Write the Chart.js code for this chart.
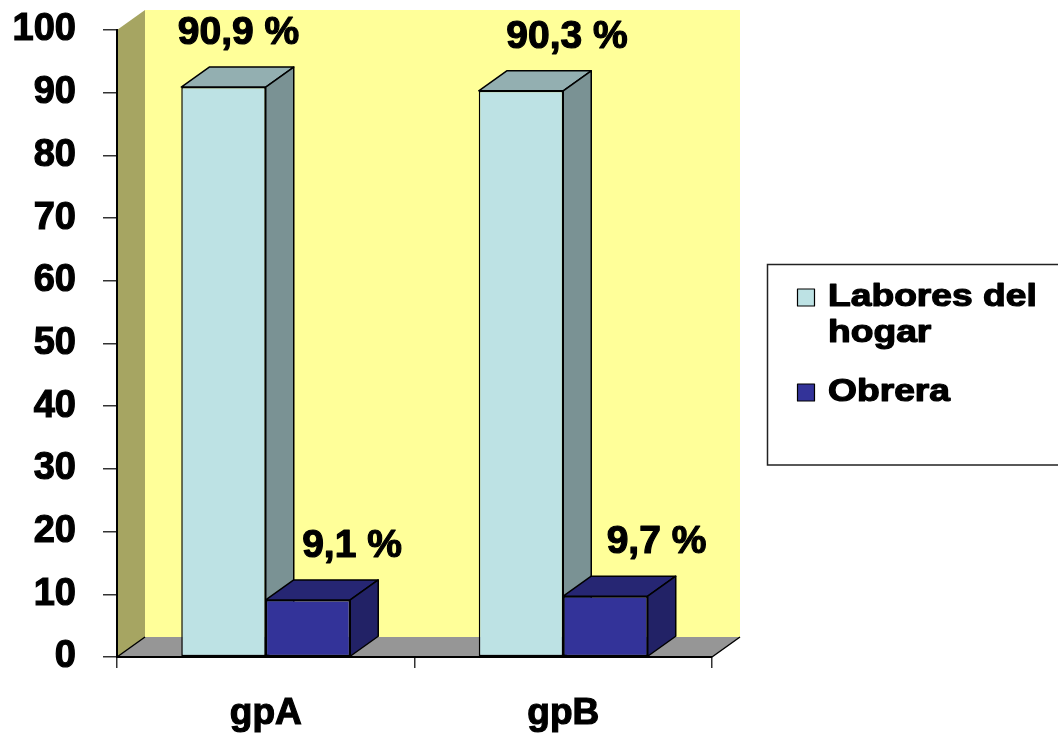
<!DOCTYPE html>
<html>
<head>
<meta charset="utf-8">
<script src="https://cdn.jsdelivr.net/npm/chart.js@4.4.1/dist/chart.umd.min.js"></script>
<style>
  html, body { margin: 0; padding: 0; background: #ffffff; }
  #wrap { width: 1058px; height: 741px; }
</style>
</head>
<body>
<div id="wrap"><canvas id="c" width="1058" height="741"></canvas></div>
<script>
// Occupation by group (percent)
const categories = ['gpA', 'gpB'];
const seriesNames = ['Labores del hogar', 'Obrera'];
const laboresValues = [90.9, 90.3];
const obreraValues = [9.1, 9.7];
const yTickValues = [0, 10, 20, 30, 40, 50, 60, 70, 80, 90, 100];

const FONT = "'Liberation Sans', Arial, sans-serif";
Chart.defaults.font.family = FONT;

// Pseudo-3D: walls, floor and the top/side faces of each bar
const box3d = {
  id: 'box3d',
  beforeDraw(chart, args, o) {
    const { ctx, chartArea: a } = chart;
    const dx = o.dx, dy = o.dy;
    ctx.save();
    // back wall
    ctx.fillStyle = o.backWall;
    ctx.fillRect(a.left + dx, a.top + dy, a.right - a.left, a.bottom - a.top);
    // left wall
    ctx.fillStyle = o.sideWall;
    ctx.beginPath();
    ctx.moveTo(a.left, a.top);
    ctx.lineTo(a.left + dx, a.top + dy);
    ctx.lineTo(a.left + dx, a.bottom + dy);
    ctx.lineTo(a.left, a.bottom);
    ctx.closePath();
    ctx.fill();
    // floor
    ctx.fillStyle = o.floor;
    ctx.beginPath();
    ctx.moveTo(a.left, a.bottom);
    ctx.lineTo(a.left + dx, a.bottom + dy);
    ctx.lineTo(a.right + dx, a.bottom + dy);
    ctx.lineTo(a.right, a.bottom);
    ctx.closePath();
    ctx.fill();
    ctx.strokeStyle = '#000';
    ctx.lineWidth = 1.5;
    ctx.beginPath();
    ctx.moveTo(a.left, a.bottom);
    ctx.lineTo(a.left + dx, a.bottom + dy);
    ctx.moveTo(a.right, a.bottom);
    ctx.lineTo(a.right + dx, a.bottom + dy);
    ctx.stroke();
    ctx.restore();
  },
  beforeDatasetsDraw(chart, args, o) {
    const ctx = chart.ctx;
    const dx = o.dx, dy = o.dy;
    ctx.save();
    ctx.strokeStyle = '#000';
    ctx.lineWidth = 1.5;
    ctx.lineJoin = 'round';
    const n = chart.data.labels.length;
    for (let i = 0; i < n; i++) {
      chart.data.datasets.forEach((ds, d) => {
        const bar = chart.getDatasetMeta(d).data[i];
        if (!bar) return;
        const { x, y, base, width } = bar.getProps(['x', 'y', 'base', 'width'], true);
        const x0 = x - width / 2, x1 = x + width / 2;
        const faces = o.faces[d];
        // top face
        ctx.fillStyle = faces.top;
        ctx.beginPath();
        ctx.moveTo(x0, y);
        ctx.lineTo(x0 + dx, y + dy);
        ctx.lineTo(x1 + dx, y + dy);
        ctx.lineTo(x1, y);
        ctx.closePath();
        ctx.fill();
        ctx.stroke();
        // side face
        ctx.fillStyle = faces.side;
        ctx.beginPath();
        ctx.moveTo(x1, y);
        ctx.lineTo(x1 + dx, y + dy);
        ctx.lineTo(x1 + dx, base + dy);
        ctx.lineTo(x1, base);
        ctx.closePath();
        ctx.fill();
        ctx.stroke();
      });
    }
    ctx.restore();
  }
};

// Value labels above each bar, written with a decimal comma
const valueLabels = {
  id: 'valueLabels',
  afterDatasetsDraw(chart, args, o) {
    const ctx = chart.ctx;
    ctx.save();
    ctx.fillStyle = '#000';
    ctx.strokeStyle = '#000';
    ctx.lineWidth = o.weight;
    ctx.lineJoin = 'round';
    ctx.font = `bold ${o.size}px ${FONT}`;
    ctx.textAlign = 'center';
    ctx.textBaseline = 'alphabetic';
    chart.data.datasets.forEach((ds, d) => {
      chart.getDatasetMeta(d).data.forEach((bar, i) => {
        const txt = String(ds.data[i]).replace('.', ',') + ' %';
        const x = bar.x + o.shift[d][i], y = bar.y - o.lift;
        ctx.strokeText(txt, x, y);
        ctx.fillText(txt, x, y);
      });
    });
    ctx.restore();
  }
};

// Boxed legend with wrapped entries
const boxLegend = {
  id: 'boxLegend',
  afterDraw(chart, args, o) {
    const ctx = chart.ctx;
    ctx.save();
    ctx.strokeStyle = '#222';
    ctx.lineWidth = 1.5;
    ctx.strokeRect(o.left, o.top, o.width, o.height);
    ctx.font = `bold ${o.size}px ${FONT}`;
    ctx.textBaseline = 'alphabetic';
    ctx.textAlign = 'left';
    ctx.lineJoin = 'round';
    let y = o.firstBaseline;
    chart.data.datasets.forEach((ds) => {
      const words = ds.label.split(' ');
      const lines = [];
      let cur = '';
      words.forEach(w => {
        const t = cur ? cur + ' ' + w : w;
        if (cur && ctx.measureText(t).width * o.stretch > o.maxTextWidth) {
          lines.push(cur);
          cur = w;
        } else {
          cur = t;
        }
      });
      if (cur) lines.push(cur);
      ctx.fillStyle = ds.backgroundColor;
      ctx.fillRect(o.swatchX, y - o.swatch, o.swatch, o.swatch);
      ctx.strokeStyle = '#000';
      ctx.lineWidth = 1.2;
      ctx.strokeRect(o.swatchX, y - o.swatch, o.swatch, o.swatch);
      ctx.fillStyle = '#000';
      lines.forEach((ln, j) => {
        ctx.save();
        ctx.translate(o.textX, y + j * o.lineHeight);
        ctx.scale(o.stretch, 1);
        ctx.lineWidth = o.weight;
        ctx.strokeText(ln, 0, 0);
        ctx.fillText(ln, 0, 0);
        ctx.restore();
      });
      y += lines.length * o.lineHeight + o.itemGap;
    });
    ctx.restore();
  }
};

new Chart(document.getElementById('c'), {
  type: 'bar',
  data: {
    labels: categories,
    datasets: [
      {
        label: seriesNames[0],
        data: laboresValues,
        backgroundColor: '#BDE2E4',
        borderColor: '#000',
        borderWidth: 1.5,
        borderSkipped: false,
        categoryPercentage: 0.568,
        barPercentage: 1
      },
      {
        label: seriesNames[1],
        data: obreraValues,
        backgroundColor: '#333399',
        borderColor: '#000',
        borderWidth: 1.5,
        borderSkipped: false,
        categoryPercentage: 0.568,
        barPercentage: 1
      }
    ]
  },
  options: {
    responsive: false,
    animation: false,
    devicePixelRatio: 1,
    layout: { padding: { left: 0, top: 30, right: 346, bottom: 0 } },
    scales: {
      x: {
        afterFit: s => { s.height = 84; s.paddingLeft = 0; s.paddingRight = 0; },
        grid: { offset: true, drawOnChartArea: false, drawTicks: true, tickLength: 11, color: '#333', lineWidth: 1.5 },
        border: { display: true, color: '#000', width: 2 },
        ticks: {
          color: '#000', textStrokeColor: '#000', textStrokeWidth: 1.2,
          font: { family: FONT, weight: 'bold', size: 37 }, padding: 24
        }
      },
      y: {
        min: 0,
        max: 100,
        afterBuildTicks: s => { s.ticks = yTickValues.map(v => ({ value: v })); },
        afterFit: s => { s.width = 117; s.paddingTop = 0; s.paddingBottom = 0; },
        grid: { drawOnChartArea: false, drawTicks: true, tickLength: 14, color: '#333', lineWidth: 1.5 },
        border: { display: true, color: '#000', width: 2 },
        ticks: {
          color: '#000', textStrokeColor: '#000', textStrokeWidth: 1.2,
          font: { family: FONT, weight: 'bold', size: 38 }, padding: 27
        }
      }
    },
    plugins: {
      legend: { display: false },
      tooltip: { enabled: false },
      box3d: {
        dx: 28, dy: -20,
        backWall: '#FFFF99',
        sideWall: '#A6A562',
        floor: '#969696',
        faces: [
          { top: '#93AFB1', side: '#7A9294' },
          { top: '#262673', side: '#222266' }
        ]
      },
      valueLabels: { size: 39, lift: 43, weight: 1.2, shift: [[15, 46], [44, 51]] },
      boxLegend: {
        left: 767.5, top: 264.5, width: 320, height: 200.5,
        size: 31, stretch: 1.2, maxTextWidth: 225, weight: 1.2,
        swatchX: 797.5, swatch: 17, textX: 828,
        firstBaseline: 306, lineHeight: 36, itemGap: 23
      }
    }
  },
  plugins: [box3d, valueLabels, boxLegend]
});
</script>
</body>
</html>
